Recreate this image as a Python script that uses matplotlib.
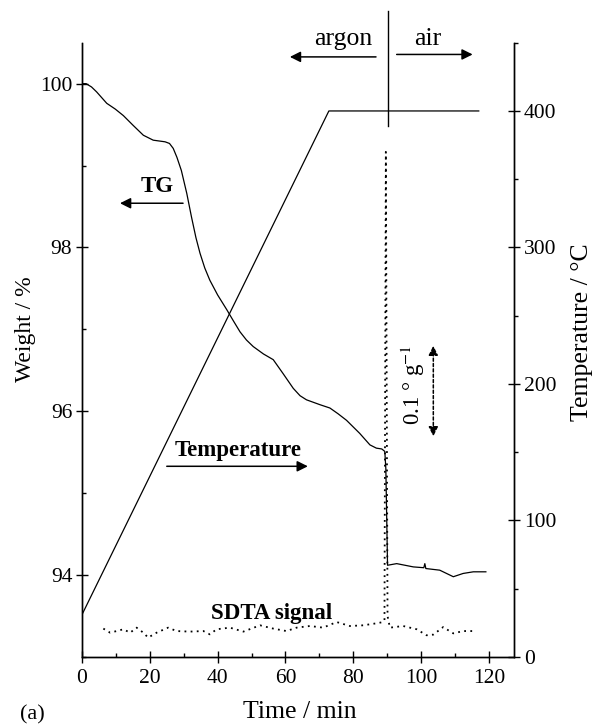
import matplotlib
matplotlib.use("Agg")
import matplotlib.pyplot as plt
from matplotlib.ticker import MultipleLocator

plt.rcParams['font.family'] = ['Liberation Serif', 'DejaVu Serif']
plt.rcParams['mathtext.fontset'] = 'stix'

# ---- data ----
tg_time = [0, 1.2, 2.8, 4.3, 7.3, 9.8, 12.2, 15.1, 18.1, 21.0, 24.5, 25.8, 26.9,
           28.0, 29.3, 30.9, 32.3, 33.6, 34.8, 36.2, 37.7, 40.0, 42.7, 44.7, 46.6,
           48.5, 50.5, 53.5, 56.4, 59.3, 62.3, 64.3, 66.2, 70.2, 73.1, 75.5,
           78.0, 81.9, 84.9, 86.8, 88.4, 89.3, 89.6, 89.9, 90.1, 92.8, 97.7,
           100.8, 101.1, 101.4, 105.5, 109.5, 112.4, 115.4, 119.1]
tg_weight = [100.0, 100.0, 99.96, 99.90, 99.76, 99.69, 99.61, 99.49, 99.37, 99.31,
             99.29, 99.27, 99.21, 99.10, 98.94, 98.66, 98.37, 98.12, 97.93, 97.75,
             97.60, 97.42, 97.24, 97.10, 96.97, 96.87, 96.79, 96.70, 96.63, 96.46,
             96.28, 96.19, 96.14, 96.08, 96.04, 95.97, 95.89, 95.73, 95.59, 95.55,
             95.54, 95.51, 95.30, 94.60, 94.12, 94.14, 94.10, 94.09, 94.14, 94.08,
             94.06, 93.98, 94.02, 94.04, 94.04]

temp_time = [0, 72.8, 117.0]
temp_val = [31, 400, 400]

sdta_time = [6.3, 8.3, 10.2, 12.2, 14.2, 16.1, 18.1, 19.5, 22.0, 25.4, 27.9, 31.8,
             35.8, 37.7, 39.7, 43.6, 47.6, 52.5, 56.4, 60.3, 63.3, 67.2, 71.1, 75.1,
             79.0, 82.9, 86.9, 88.8, 89.2, 89.6, 90.1, 90.8, 94.7, 98.7, 101.6,
             103.6, 106.5, 109.5, 112.4, 116.2]
sdta_val = [20.8, 17.8, 19.0, 20.3, 17.8, 21.5, 17.8, 14.2, 17.8, 21.5, 19.0, 18.6,
            19.0, 16.6, 20.3, 21.5, 18.6, 23.2, 20.8, 19.0, 21.5, 22.7, 21.5, 25.6,
            22.7, 23.2, 24.7, 25.6, 27, 370, 30, 21.5, 22.7, 20.3, 15.9,
            16.4, 21.9, 17.3, 19.0, 19.0]

switch_time = 90.3   # argon -> air

fig = plt.figure(figsize=(5.95, 7.25), dpi=100)
ax = fig.add_axes([0.1378, 0.0938, 0.7261, 0.8473])
ax2 = ax.twinx()

ax.plot(tg_time, tg_weight, color='black', lw=0.9)
ax2.plot(temp_time, temp_val, color='black', lw=0.9)
ax2.plot(sdta_time, sdta_val, color='black', lw=1.3, ls=(0, (1, 2.4)))
ax2.plot([switch_time, switch_time], [389, 473], color='black', lw=1.0, clip_on=False)

ax.set_xlim(0, 127.4)
ax.set_ylim(93.0, 100.5)
ax2.set_ylim(0, 450)

for a in (ax, ax2):
    a.spines['top'].set_visible(False)
    for s in a.spines.values():
        s.set_linewidth(1.0)

ax.xaxis.set_major_locator(MultipleLocator(20))
ax.xaxis.set_minor_locator(MultipleLocator(10))
ax.yaxis.set_major_locator(MultipleLocator(2))
ax.yaxis.set_minor_locator(MultipleLocator(1))
ax2.yaxis.set_major_locator(MultipleLocator(100))
ax2.yaxis.set_minor_locator(MultipleLocator(50))

ax.tick_params(axis='both', which='major', direction='inout', length=8, width=1,
               labelsize=15.5, pad=3)
ax.tick_params(axis='x', which='major', pad=5)
ax.tick_params(axis='both', which='minor', direction='in', length=3, width=1)
ax2.tick_params(axis='y', which='major', direction='inout', length=8, width=1,
                labelsize=15.5, pad=3)
ax2.tick_params(axis='y', which='minor', direction='out', length=3, width=1)

ax.set_xlabel('Time / min', fontsize=18.5)
ax.set_ylabel('Weight / %', fontsize=17)
ax2.set_ylabel('Temperature / \u00b0C', fontsize=18.5)
ax.xaxis.set_label_coords(0.505, -0.072)
ax.yaxis.set_label_coords(-0.107, 0.534)
ax2.yaxis.set_label_coords(1.132, 0.529)

arrow = dict(arrowstyle='-|>', color='black', lw=1.1, mutation_scale=16,
             shrinkA=0, shrinkB=0)

# gas annotations above the plot
ax2.text(76.9, 453, 'argon', fontsize=18.5, ha='center', va='center', clip_on=False)
ax2.annotate('', xy=(61.3, 439.6), xytext=(86.7, 439.6), arrowprops=arrow,
             annotation_clip=False)
ax2.text(102.0, 453, 'air', fontsize=18.5, ha='center', va='center', clip_on=False)
ax2.annotate('', xy=(115.2, 441.4), xytext=(92.8, 441.4), arrowprops=arrow,
             annotation_clip=False)

# curve labels
ax2.text(22.1, 345, 'TG', fontsize=16.5, fontweight='bold', ha='center', va='center')
ax2.annotate('', xy=(11.2, 332.4), xytext=(29.8, 332.4), arrowprops=arrow)
ax2.text(46.0, 151.4, 'Temperature', fontsize=16.5, fontweight='bold',
         ha='center', va='center')
ax2.annotate('', xy=(66.6, 139.7), xytext=(25.0, 139.7), arrowprops=arrow)
ax2.text(56.0, 32.0, 'SDTA signal', fontsize=16.5, fontweight='bold',
         ha='center', va='center')

# SDTA scale bar
ax2.text(97.7, 199, '0.1 \u00b0 g$^{-1}$', fontsize=16.5, rotation=90,
         ha='center', va='center')
ax2.annotate('', xy=(103.6, 161.7), xytext=(103.6, 228),
             arrowprops=dict(arrowstyle='<|-|>', color='black', lw=1.1,
                             ls=(0, (2, 1.5)), mutation_scale=14,
                             shrinkA=0, shrinkB=0))

fig.text(20 / 595, 1 - 715 / 725, '(a)', fontsize=16, va='center', ha='left')

fig.savefig('out.png', dpi=100)
